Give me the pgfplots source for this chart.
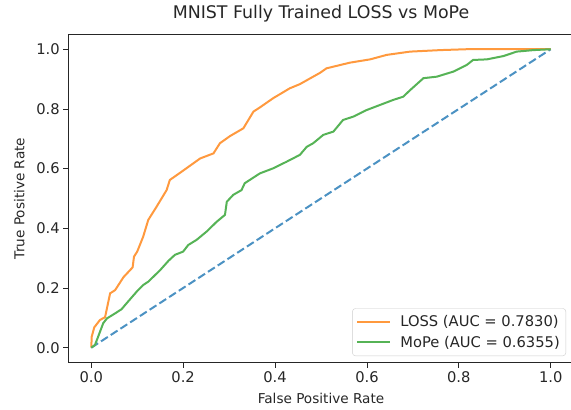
\documentclass[border=0pt]{standalone}
\usepackage{fontspec}
\setmainfont{DejaVu Sans}
\usepackage{pgfplots}
\pgfplotsset{compat=1.18}
\definecolor{cblue}{HTML}{4C92C3}
\definecolor{corange}{HTML}{FF993E}
\definecolor{cgreen}{HTML}{56B356}
\definecolor{txt}{HTML}{262626}
\begin{document}
\begin{tikzpicture}[x=1pt,y=1pt]
\path[use as bounding box] (-68.3,-47.4) rectangle (502.7,362.6);
\begin{axis}[
  at={(0,0)}, anchor=south west,
  width=505.4pt, height=328.3pt, scale only axis,
  xmin=-0.05, xmax=1.05, ymin=-0.05, ymax=1.05,
  xtick={0,0.2,0.4,0.6,0.8,1.0},
  ytick={0,0.2,0.4,0.6,0.8,1.0},
  xticklabels={0.0,0.2,0.4,0.6,0.8,1.0},
  yticklabels={0.0,0.2,0.4,0.6,0.8,1.0},
  tick align=outside,
  major tick length=5pt,
  tick style={black!85, line width=0.8pt},
  axis line style={black!85, line width=0.8pt},
  xtick pos=bottom, ytick pos=left,
  ticklabel style={font=\fontsize{14.7}{17}\selectfont, text=txt},
  /pgf/number format/assume math mode=true,
  title={MNIST Fully Trained LOSS vs MoPe},
  title style={font=\fontsize{17.4}{20}\selectfont, text=txt, at={(0.5,1)}, anchor=base, yshift=9.3pt},
  xlabel={False Positive Rate},
  ylabel={True Positive Rate},
  xlabel shift=4pt,
  ylabel shift=5pt,
  label style={font=\fontsize{13.6}{16}\selectfont, text=txt},
  legend style={at={(1,0)}, anchor=south east, xshift=-7.7pt, yshift=6.6pt,
    draw=black!20, rounded corners=3pt, fill=white,
    font=\fontsize{14.7}{17}\selectfont, text=txt,
    row sep=4pt, inner xsep=4pt, inner ysep=5pt},
  legend cell align=left,
  legend image code/.code={\draw[#1] (0pt,0pt) -- (33pt,0pt); \path (40pt,0pt);},
]
\addplot[cblue, dash pattern=on 8.1pt off 3.5pt, line width=2pt, forget plot] coordinates {(0,0) (1,1)};
\addplot[corange, line width=2pt] coordinates {
(0,0) (0.001,0.037) (0.0065,0.068) (0.019,0.093) (0.030,0.102) (0.041,0.182) (0.052,0.193)
(0.070,0.236) (0.090,0.269) (0.093,0.305) (0.100,0.322) (0.113,0.372) (0.124,0.428)
(0.142,0.472) (0.164,0.528) (0.171,0.562) (0.197,0.590) (0.237,0.634) (0.266,0.651)
(0.280,0.685) (0.302,0.709) (0.331,0.735) (0.353,0.791) (0.367,0.805) (0.396,0.836)
(0.432,0.869) (0.454,0.883) (0.498,0.921) (0.512,0.936) (0.563,0.955) (0.607,0.966)
(0.643,0.981) (0.694,0.992) (0.759,0.997) (0.817,1.0) (1.0,1.0)};
\addlegendentry{LOSS (AUC = 0.7830)}
\addplot[cgreen, line width=2pt] coordinates {
(0,0) (0.008,0.009) (0.015,0.037) (0.026,0.082) (0.034,0.098) (0.052,0.115) (0.066,0.129)
(0.077,0.149) (0.099,0.188) (0.113,0.210) (0.124,0.221) (0.150,0.260) (0.168,0.291)
(0.182,0.311) (0.200,0.322) (0.211,0.344) (0.229,0.361) (0.251,0.389) (0.273,0.422)
(0.291,0.445) (0.295,0.489) (0.309,0.512) (0.327,0.528) (0.334,0.551) (0.367,0.584)
(0.396,0.601) (0.425,0.623) (0.454,0.646) (0.469,0.673) (0.483,0.685) (0.505,0.713)
(0.527,0.724) (0.548,0.763) (0.570,0.774) (0.599,0.796) (0.628,0.813) (0.657,0.830)
(0.679,0.841) (0.694,0.863) (0.723,0.903) (0.752,0.908) (0.788,0.925) (0.817,0.947)
(0.831,0.964) (0.861,0.966) (0.897,0.977) (0.926,0.992) (0.962,0.997) (1,1)};
\addlegendentry{MoPe (AUC = 0.6355)}
\end{axis}
\end{tikzpicture}
\end{document}
